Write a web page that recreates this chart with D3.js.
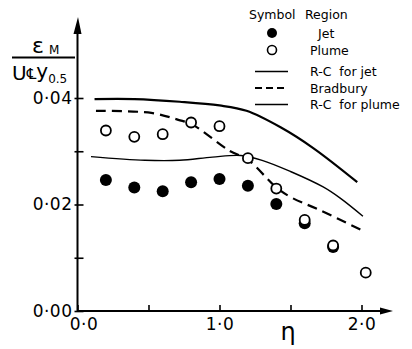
<!DOCTYPE html>
<html>
<head>
<meta charset="utf-8">
<script src="https://cdn.jsdelivr.net/npm/d3@7"></script>
<style>
  body { margin: 0; background: #fff; }
  text { font-family: "DejaVu Sans", sans-serif; fill: #000; white-space: pre; }
</style>
</head>
<body>
<div id="chart"></div>
<script>
// measured points (eta, eps_M / (U_CL y_0.5))
var jetEta = [0.2, 0.4, 0.6, 0.8, 1.0, 1.2, 1.4, 1.6, 1.8];
var jetVals = [0.0246, 0.0232, 0.0225, 0.0242, 0.0248, 0.0235, 0.0201, 0.0165, 0.0120];
var plumeEta = [0.2, 0.4, 0.6, 0.8, 1.0, 1.2, 1.4, 1.6, 1.8, 2.03];
var plumeVals = [0.0339, 0.0327, 0.0332, 0.0354, 0.0347, 0.0287, 0.0230, 0.0171, 0.0123, 0.0072];

// curves
var rcJetEta = [0.12, 0.4, 0.72, 1.0, 1.19, 1.43, 1.66, 1.97];
var rcJetVals = [0.0398, 0.0398, 0.0393, 0.0386, 0.0376, 0.0345, 0.0306, 0.0242];
var bradEta = [0.13, 0.52, 0.71, 0.81, 1.07, 1.2, 1.4, 1.5, 1.71, 2.0];
var bradVals = [0.0376, 0.0372, 0.0359, 0.0350, 0.0301, 0.0284, 0.0232, 0.0214, 0.0189, 0.0152];
var rcPlumeEta = [0.095, 0.475, 0.72, 0.95, 1.15, 1.3, 1.5, 1.73, 1.85, 2.01];
var rcPlumeVals = [0.0290, 0.0283, 0.0283, 0.0289, 0.0292, 0.0283, 0.0262, 0.0233, 0.0212, 0.0178];

var xTicks = [0, 0.5, 1.0, 1.5, 2.0];
var xLabels = { 0: "0·0", 1: "1·0", 2: "2·0" };
var yTicks = [0, 0.01, 0.02, 0.03, 0.04];
var yLabels = { 0: "0·00", 0.02: "0·02", 0.04: "0·04" };

var legendLines = [
  { label: "R-C  for jet", dash: null, w: 1.6 },
  { label: "Bradbury", dash: "7,4", w: 2.2 },
  { label: "R-C  for plume", dash: null, w: 1.4 }
];

var width = 412, height = 349;
var svg = d3.select("#chart").append("svg")
  .attr("width", width)
  .attr("height", height);

var x = d3.scaleLinear().domain([0, 2]).range([77.5, 361.5]);
var y = d3.scaleLinear().domain([0, 0.04]).range([311, 98]);

// axes
var xAxis = d3.axisBottom(x)
  .tickValues(xTicks)
  .tickSizeInner(-6)
  .tickSizeOuter(0)
  .tickPadding(7)
  .tickFormat(function (d) { return xLabels[d] || ""; });

var yAxis = d3.axisLeft(y)
  .tickValues(yTicks)
  .tickSizeInner(-6)
  .tickSizeOuter(0)
  .tickPadding(5)
  .tickFormat(function (d) { return yLabels[d] || ""; });

var gx = svg.append("g")
  .attr("transform", "translate(0," + y(0) + ")")
  .call(xAxis);
gx.select(".domain").remove();
gx.selectAll(".tick line").attr("stroke", "#000").attr("stroke-width", 1.6);
gx.selectAll(".tick text")
  .attr("font-size", 17)
  .attr("letter-spacing", 0.5)
  .attr("dx", function (d) { return d === 0 ? 6 : 0; });

var gy = svg.append("g")
  .attr("transform", "translate(" + x(0) + ",0)")
  .call(yAxis);
gy.select(".domain").remove();
gy.selectAll(".tick line").attr("stroke", "#000").attr("stroke-width", 1.6).attr("x1", -3);
gy.selectAll(".tick text")
  .attr("font-size", 17)
  .attr("letter-spacing", 0.5);

// axis lines with arrows
svg.append("line")
  .attr("x1", x(0)).attr("y1", y(0))
  .attr("x2", 385).attr("y2", y(0))
  .attr("stroke", "#000").attr("stroke-width", 2);
svg.append("path")
  .attr("d", "M380," + (y(0) - 3.5) + "L393," + y(0) + "L380," + (y(0) + 3.5) + "Z")
  .attr("fill", "#000");
svg.append("line")
  .attr("x1", x(0)).attr("y1", y(0))
  .attr("x2", x(0)).attr("y2", 28)
  .attr("stroke", "#000").attr("stroke-width", 2);
svg.append("path")
  .attr("d", "M" + (x(0) - 4) + ",34L" + (x(0) + 0.5) + ",17L" + (x(0) + 4) + ",34Z")
  .attr("fill", "#000");

// eta label
svg.append("text")
  .attr("x", 288).attr("y", 340)
  .attr("text-anchor", "middle")
  .attr("font-size", 24)
  .attr("font-family", "Liberation Sans")
  .text("η");

// y label: eps_M over U_CL y_0.5
svg.append("text").attr("x", 32).attr("y", 53).attr("font-size", 22).text("ε");
svg.append("text").attr("x", 49).attr("y", 54).attr("font-size", 12).text("M");
svg.append("line")
  .attr("x1", 12).attr("x2", 75).attr("y1", 57.5).attr("y2", 57.5)
  .attr("stroke", "#000").attr("stroke-width", 2);
var den = svg.append("text").attr("x", 12).attr("y", 80).attr("font-size", 20);
den.append("tspan").text("U");
den.append("tspan").attr("font-size", 15).attr("dy", -1).text("℄");
den.append("tspan").attr("dy", -1).text("y");
den.append("tspan").attr("font-size", 12).attr("dy", 5).text("0.5");

// curves
var line = d3.line()
  .x(function (d) { return x(d[0]); })
  .y(function (d) { return y(d[1]); })
  .curve(d3.curveCatmullRom);

svg.append("path")
  .datum(d3.zip(rcJetEta, rcJetVals))
  .attr("d", line)
  .attr("fill", "none").attr("stroke", "#000").attr("stroke-width", 2.2);

svg.append("path")
  .datum(d3.zip(bradEta, bradVals))
  .attr("d", line)
  .attr("fill", "none").attr("stroke", "#000").attr("stroke-width", 2.2)
  .attr("stroke-dasharray", "10,6");

svg.append("path")
  .datum(d3.zip(rcPlumeEta, rcPlumeVals))
  .attr("d", line)
  .attr("fill", "none").attr("stroke", "#000").attr("stroke-width", 1.4);

// points
svg.append("g").selectAll("circle")
  .data(d3.zip(jetEta, jetVals))
  .enter().append("circle")
  .attr("cx", function (d) { return x(d[0]); })
  .attr("cy", function (d) { return y(d[1]); })
  .attr("r", 6)
  .attr("fill", "#000");

svg.append("g").selectAll("circle")
  .data(d3.zip(plumeEta, plumeVals))
  .enter().append("circle")
  .attr("cx", function (d) { return x(d[0]); })
  .attr("cy", function (d) { return y(d[1]); })
  .attr("r", 5)
  .attr("fill", "#fff")
  .attr("stroke", "#000")
  .attr("stroke-width", 1.8);

// legend
var legend = svg.append("g").attr("font-size", 12.5);
legend.append("text").attr("x", 249).attr("y", 19).text("Symbol");
legend.append("text").attr("x", 305).attr("y", 19).text("Region");
legend.append("circle").attr("cx", 272).attr("cy", 33).attr("r", 5).attr("fill", "#000");
legend.append("text").attr("x", 318).attr("y", 37.5).text("Jet");
legend.append("circle").attr("cx", 272).attr("cy", 50).attr("r", 4.5)
  .attr("fill", "#fff").attr("stroke", "#000").attr("stroke-width", 1.6);
legend.append("text").attr("x", 310).attr("y", 54.5).text("Plume");

legendLines.forEach(function (d, i) {
  var ly = 71.5 + i * 16.5;
  legend.append("line")
    .attr("x1", 255).attr("x2", 288).attr("y1", ly).attr("y2", ly)
    .attr("stroke", "#000").attr("stroke-width", d.w)
    .attr("stroke-dasharray", d.dash);
  legend.append("text").attr("x", 310).attr("y", ly + 4.5).text(d.label);
});
</script>
</body>
</html>
